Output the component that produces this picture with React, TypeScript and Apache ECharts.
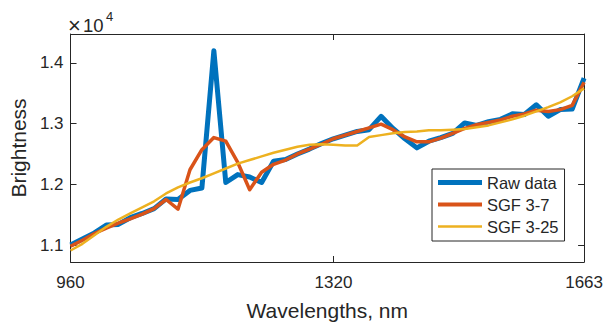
import React, { useEffect, useRef } from "react";
import * as echarts from "echarts";

// Wavelengths (nm) of the samples
const wavelengths = [
  960.0, 976.3, 992.7, 1009.0, 1025.4, 1041.7, 1058.1, 1074.4, 1090.8, 1107.1,
  1123.5, 1139.8, 1156.2, 1172.5, 1188.9, 1205.2, 1221.6, 1237.9, 1254.3, 1270.6,
  1287.0, 1303.3, 1319.7, 1336.0, 1352.4, 1368.7, 1385.1, 1401.4, 1417.8, 1434.1,
  1450.5, 1466.8, 1483.2, 1499.5, 1515.9, 1532.2, 1548.6, 1564.9, 1581.3, 1597.6,
  1614.0, 1630.3, 1646.7, 1663.0,
];

// Brightness values in units of 10^4
const rawData = [
  1.100, 1.110, 1.120, 1.133, 1.134, 1.145, 1.152, 1.160, 1.176, 1.175,
  1.190, 1.194, 1.420, 1.203, 1.216, 1.212, 1.203, 1.238, 1.241, 1.250,
  1.258, 1.267, 1.275, 1.281, 1.287, 1.290, 1.312, 1.292, 1.275, 1.260,
  1.271, 1.277, 1.284, 1.301, 1.297, 1.303, 1.307, 1.316, 1.315, 1.331,
  1.312, 1.323, 1.324, 1.375,
];

const sgf37 = [
  1.098, 1.108, 1.119, 1.128, 1.136, 1.143, 1.151, 1.160, 1.175, 1.159,
  1.224, 1.257, 1.277, 1.271, 1.236, 1.191, 1.220, 1.233, 1.240, 1.250,
  1.258, 1.266, 1.275, 1.281, 1.287, 1.293, 1.299, 1.290, 1.278, 1.270,
  1.270, 1.276, 1.284, 1.292, 1.298, 1.302, 1.306, 1.312, 1.316, 1.322,
  1.320, 1.323, 1.330, 1.368,
];

const sgf325 = [
  1.091, 1.102, 1.116, 1.130, 1.142, 1.152, 1.162, 1.172, 1.185, 1.195,
  1.203, 1.210, 1.218, 1.226, 1.234, 1.240, 1.246, 1.252, 1.257, 1.262,
  1.265, 1.266, 1.265, 1.264, 1.264, 1.278, 1.281, 1.284, 1.286, 1.287,
  1.289, 1.289, 1.290, 1.291, 1.294, 1.297, 1.302, 1.307, 1.313, 1.320,
  1.327, 1.335, 1.345, 1.358,
];

const xTicks = [960, 1320, 1663];
const yTicks = [1.1, 1.2, 1.3, 1.4];
const seriesNames = ["Raw data", "SGF 3-7", "SGF 3-25"];
const seriesColors = ["#0072BD", "#D95319", "#EDB120"];

const FONT = "'Liberation Sans', Arial, Helvetica, sans-serif";
const AX = "#262626";

export default function App() {
  const ref = useRef<HTMLDivElement>(null);

  useEffect(() => {
    document.body.style.margin = "0";
    if (!ref.current) return;
    const chart = echarts.init(ref.current, null, { renderer: "svg" });

    const pairs = (ys: number[]) => wavelengths.map((w, i) => [w, ys[i]]);

    const xBase = {
      type: "value" as const,
      min: 960,
      max: 1663,
      splitLine: { show: false },
      axisLine: { show: true, onZero: false, lineStyle: { color: AX, width: 1 } },
    };
    const yBase = {
      type: "value" as const,
      min: 1.0721,
      max: 1.4475,
      splitLine: { show: false },
      axisLine: { show: true, onZero: false, lineStyle: { color: AX, width: 1 } },
    };

    const iconHeights = [5, 4, 2.7];

    chart.setOption({
      animation: false,
      backgroundColor: "#ffffff",
      textStyle: { fontFamily: FONT },
      grid: { left: 66, right: 18, top: 34, bottom: 63, containLabel: false },
      xAxis: [
        {
          ...xBase,
          position: "bottom",
          name: "Wavelengths, nm",
          nameLocation: "middle",
          nameGap: 38,
          nameTextStyle: { fontSize: 21, color: AX, fontFamily: FONT },
          axisTick: { show: true, inside: true, length: 6, customValues: xTicks, lineStyle: { color: AX } },
          axisLabel: {
            show: true,
            customValues: xTicks,
            margin: 12,
            fontSize: 17,
            color: AX,
            fontFamily: FONT,
            formatter: (v: number) => String(Math.round(v)),
          },
        },
        {
          ...xBase,
          position: "top",
          axisTick: { show: true, inside: true, length: 6, customValues: xTicks, lineStyle: { color: AX } },
          axisLabel: { show: false },
        },
      ],
      yAxis: [
        {
          ...yBase,
          position: "left",
          name: "Brightness",
          nameLocation: "middle",
          nameGap: 37,
          nameTextStyle: { fontSize: 21, color: AX, fontFamily: FONT },
          axisTick: { show: true, inside: true, length: 6, customValues: yTicks, lineStyle: { color: AX } },
          axisLabel: {
            show: true,
            customValues: yTicks,
            margin: 7,
            fontSize: 17,
            color: AX,
            fontFamily: FONT,
            formatter: (v: number) => v.toFixed(1),
          },
        },
        {
          ...yBase,
          position: "right",
          axisTick: { show: true, inside: true, length: 6, customValues: yTicks, lineStyle: { color: AX } },
          axisLabel: { show: false },
        },
      ],
      legend: {
        orient: "vertical",
        left: 432,
        top: 169,
        padding: [5, 6, 6, 6],
        itemGap: 5,
        itemWidth: 44,
        itemHeight: 16,
        symbolKeepAspect: true,
        backgroundColor: "#ffffff",
        borderColor: AX,
        borderWidth: 1,
        borderRadius: 0,
        textStyle: { fontSize: 16.5, color: AX, fontFamily: FONT },
        data: seriesNames.map((n, i) => ({
          name: n,
          icon: `path://M0,0H44V${iconHeights[i]}H0Z`,
          itemStyle: { color: seriesColors[i] },
        })),
      },
      graphic: [
        {
          type: "text",
          left: 68,
          top: 14,
          style: {
            text: "×",
            fontSize: 22,
            fill: AX,
            fontFamily: FONT,
          },
        },
        {
          type: "text",
          left: 83,
          top: 16,
          style: {
            text: "10",
            fontSize: 18.5,
            fill: AX,
            fontFamily: FONT,
          },
        },
        {
          type: "text",
          left: 106,
          top: 10,
          style: {
            text: "4",
            fontSize: 13,
            fill: AX,
            fontFamily: FONT,
          },
        },
      ],
      series: seriesNames.map((n, i) => ({
        name: n,
        type: "line",
        data: pairs([rawData, sgf37, sgf325][i]),
        showSymbol: false,
        symbol: "none",
        lineStyle: { color: seriesColors[i], width: [5, 3.5, 2.5][i], join: "round" },
        itemStyle: { color: seriesColors[i] },
      })),
    });

    return () => chart.dispose();
  }, []);

  return <div ref={ref} style={{ width: 606, height: 326 }} />;
}
